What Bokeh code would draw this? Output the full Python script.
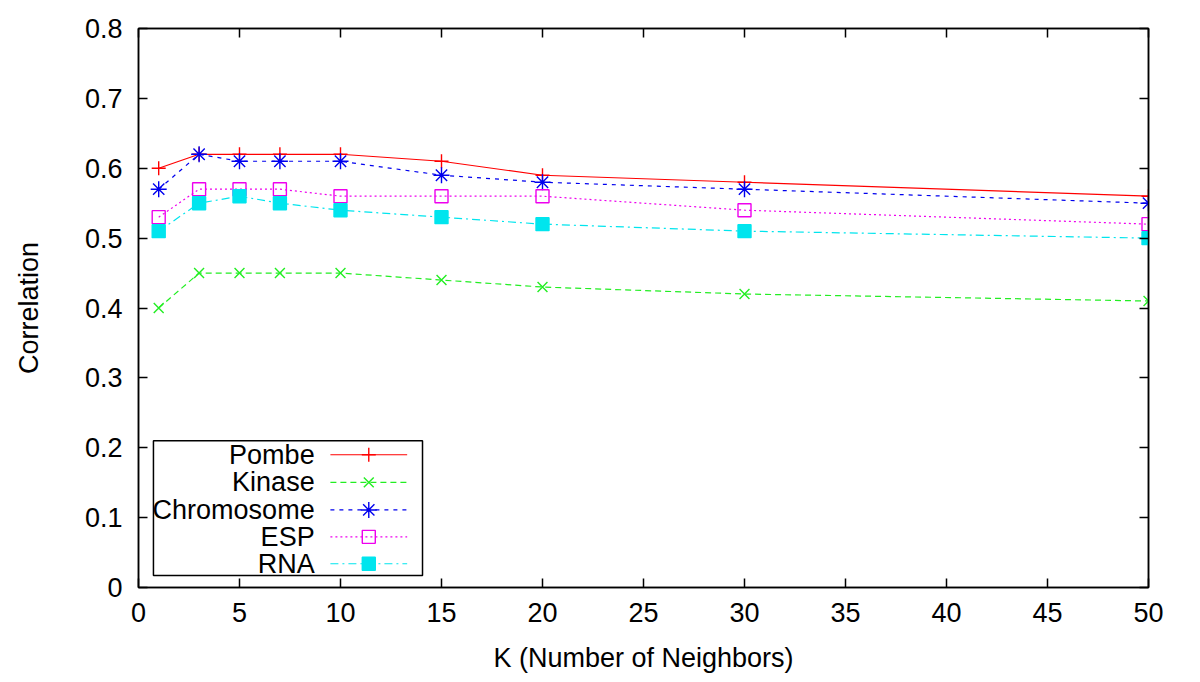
from bokeh.plotting import figure
from bokeh.models import Range1d, LinearAxis, FixedTicker, CustomJSTickFormatter
from bokeh.core.properties import value
from bokeh.embed import file_html
from bokeh.resources import INLINE

k_values = [1, 3, 5, 7, 10, 15, 20, 30, 50]
pombe = [0.60, 0.62, 0.62, 0.62, 0.62, 0.61, 0.59, 0.58, 0.56]
kinase = [0.40, 0.45, 0.45, 0.45, 0.45, 0.44, 0.43, 0.42, 0.41]
chromosome = [0.57, 0.62, 0.61, 0.61, 0.61, 0.59, 0.58, 0.57, 0.55]
esp = [0.53, 0.57, 0.57, 0.57, 0.56, 0.56, 0.56, 0.54, 0.52]
rna = [0.51, 0.55, 0.56, 0.55, 0.54, 0.53, 0.52, 0.51, 0.50]

series_names = ["Pombe", "Kinase", "Chromosome", "ESP", "RNA"]
x_ticks = [0, 5, 10, 15, 20, 25, 30, 35, 40, 45, 50]
y_ticks = [0, 0.1, 0.2, 0.3, 0.4, 0.5, 0.6, 0.7, 0.8]

FONT = "Liberation Sans"
FS = "27px"

styles = [
    dict(color="#ff0000", dash="solid", marker="cross", fill=None, size=14),
    dict(color="#22ee22", dash="6 4", marker="x", fill=None, size=14),
    dict(color="#0000ee", dash="4 5", marker="asterisk", fill=None, size=16),
    dict(color="#ee00ee", dash="2 3", marker="square", fill=None, size=13),
    dict(color="#00e5ee", dash="8 4 2 4", marker="square", fill="#00e5ee", size=13),
]
data = [pombe, kinase, chromosome, esp, rna]

p = figure(width=1200, height=682, output_backend="svg", toolbar_location=None,
           x_range=Range1d(0, 50), y_range=Range1d(0, 0.8),
           min_border_left=138, min_border_right=52, min_border_top=28, min_border_bottom=95)
p.grid.visible = False
p.outline_line_color = "black"
p.outline_line_width = 1.5
p.background_fill_color = "white"
p.border_fill_color = "white"

def style_axis(ax, labels=True):
    ax.major_tick_in = 9
    ax.major_tick_out = 0
    ax.minor_tick_in = 0
    ax.minor_tick_out = 0
    ax.axis_line_color = "black"
    ax.axis_line_width = 1.5
    ax.major_tick_line_color = "black"
    ax.major_tick_line_width = 1.5
    ax.major_label_text_font = FONT
    ax.major_label_text_font_size = FS
    ax.major_label_text_color = "black"
    ax.axis_label_text_font = FONT
    ax.axis_label_text_font_size = FS
    ax.axis_label_text_font_style = "normal"
    ax.axis_label_text_color = "black"
    if not labels:
        ax.major_label_text_font_size = "0px"
        ax.major_label_text_alpha = 0

xfmt = CustomJSTickFormatter(code="return tick.toFixed(0);")
yfmt = CustomJSTickFormatter(code="return Math.abs(tick) < 1e-9 ? '0' : tick.toFixed(1);")

p.xaxis.ticker = FixedTicker(ticks=x_ticks)
p.yaxis.ticker = FixedTicker(ticks=y_ticks)
p.xaxis.formatter = xfmt
p.yaxis.formatter = yfmt
p.xaxis.axis_label = "K (Number of Neighbors)"
p.yaxis.axis_label = "Correlation"
for ax in p.xaxis + p.yaxis:
    style_axis(ax)
p.xaxis.major_label_standoff = 15
p.yaxis.major_label_standoff = 16
p.xaxis.axis_label_standoff = 18
p.yaxis.axis_label_standoff = 38

top = LinearAxis(ticker=FixedTicker(ticks=x_ticks), formatter=xfmt)
right = LinearAxis(ticker=FixedTicker(ticks=y_ticks), formatter=yfmt)
style_axis(top, labels=False)
style_axis(right, labels=False)
p.add_layout(top, "above")
p.add_layout(right, "right")

for name, vals, st in zip(series_names, data, styles):
    p.line(k_values, vals, line_color=st["color"], line_width=1.2, line_dash=st["dash"])
    p.scatter(k_values, vals, marker=st["marker"], size=st["size"], line_color=st["color"],
              line_width=1.4, fill_color=st["fill"] if st["fill"] else None,
              fill_alpha=1 if st["fill"] else 0)

# Legend (gnuplot style: right-aligned labels, then line sample)
leg_left, leg_right = 0.74, 14.06
leg_bottom, leg_top = 0.017, 0.210
row_y = [0.190, 0.1505, 0.111, 0.0725, 0.034]
text_x = 8.72
line_x0, line_x1, mark_x = 9.5, 13.3, 11.4

p.quad(left=[leg_left], right=[leg_right], bottom=[leg_bottom], top=[leg_top],
       fill_color="white", line_color="black", line_width=1.5)
p.text(x=[text_x] * len(series_names), y=row_y, text=series_names,
       text_align="right", text_baseline="middle", text_font=value(FONT),
       text_font_size=FS, text_color="black")
for yy, st in zip(row_y, styles):
    p.line([line_x0, line_x1], [yy, yy], line_color=st["color"], line_width=1.2, line_dash=st["dash"])
    p.scatter([mark_x], [yy], marker=st["marker"], size=st["size"], line_color=st["color"],
              line_width=1.4, fill_color=st["fill"] if st["fill"] else None,
              fill_alpha=1 if st["fill"] else 0)

open("out.html", "w").write(file_html(p, INLINE))
